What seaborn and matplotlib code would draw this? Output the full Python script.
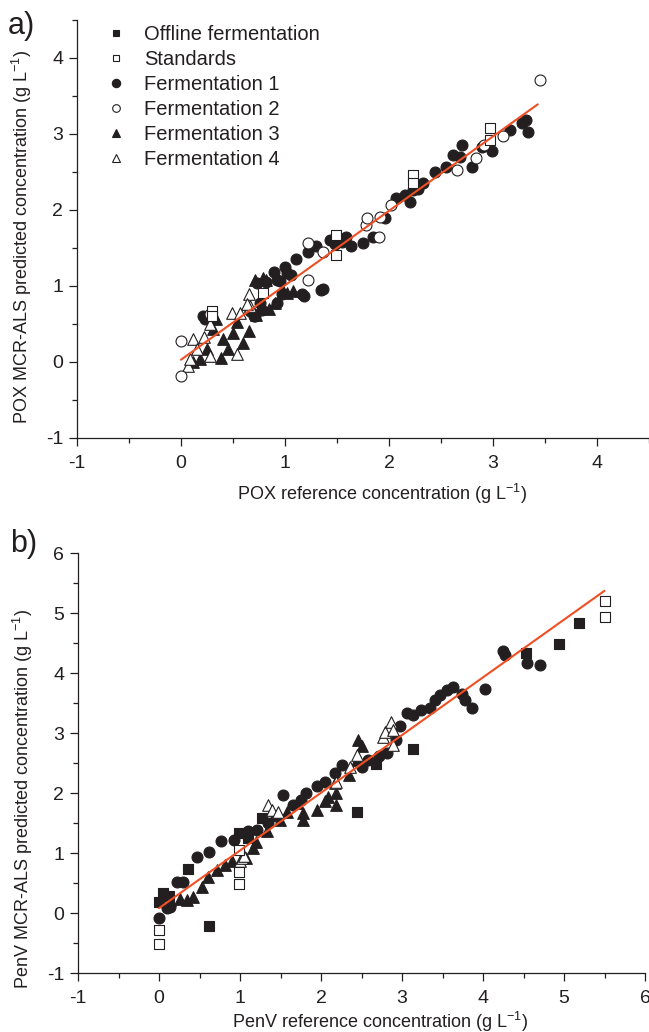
import numpy as np
import pandas as pd
import seaborn as sns
import matplotlib.pyplot as plt
from matplotlib.lines import Line2D
from matplotlib.ticker import MultipleLocator

# ---- panel a: POX ----
a_std_x = [0.30, 0.30, 0.79, 1.49, 1.49, 2.23, 2.23, 2.97, 2.97]
a_std_y = [0.67, 0.60, 0.91, 1.67, 1.41, 2.46, 2.35, 3.08, 2.92]

a_f1_x = [0.21, 0.23, 0.66, 0.70, 0.71, 0.73, 0.76, 0.78, 0.89, 0.92, 0.92, 0.95, 0.97, 1.02, 1.06, 1.11, 1.16, 1.18, 1.22, 1.30,
          1.35, 1.37, 1.43, 1.59, 1.63, 1.75, 1.85, 1.96, 2.07, 2.15, 2.20, 2.23, 2.28, 2.33, 2.44, 2.55, 2.62, 2.68, 2.70, 2.80,
          2.89, 2.99, 3.16, 3.28, 3.32, 3.34, 0.82, 1.00, 1.48, 1.55]
a_f1_y = [0.60, 0.57, 0.67, 0.60, 0.60, 1.04, 0.78, 0.69, 1.19, 1.08, 0.78, 1.06, 0.89, 1.17, 1.15, 1.35, 0.89, 0.87, 1.45, 1.52,
          0.95, 0.96, 1.61, 1.65, 1.52, 1.56, 1.65, 1.90, 2.16, 2.20, 2.11, 2.26, 2.28, 2.36, 2.50, 2.57, 2.73, 2.70, 2.85, 2.57,
          2.83, 2.78, 3.05, 3.15, 3.18, 3.02, 1.05, 1.25, 1.55, 1.58]

a_f2_x = [0.00, 0.00, 0.28, 1.22, 1.22, 1.37, 1.78, 1.79, 1.90, 1.91, 2.02, 2.65, 2.84, 2.91, 3.10, 3.45]
a_f2_y = [0.27, -0.19, 0.63, 1.08, 1.57, 1.45, 1.80, 1.89, 1.65, 1.91, 2.07, 2.52, 2.69, 2.86, 2.97, 3.71]

a_f3_x = [0.12, 0.18, 0.25, 0.31, 0.34, 0.40, 0.45, 0.54, 0.65, 0.71, 0.79, 0.82, 0.90, 0.98, 1.02, 1.08, 0.60, 0.50, 0.38, 0.72, 0.85]
a_f3_y = [0.00, 0.04, 0.17, 0.43, 0.56, 0.30, 0.17, 0.52, 0.41, 1.08, 1.11, 1.08, 0.78, 0.93, 0.91, 0.93, 0.25, 0.38, 0.05, 0.62, 0.70]

a_f4_x = [0.07, 0.09, 0.12, 0.15, 0.28, 0.28, 0.49, 0.54, 0.57, 0.65, 0.66, 0.22, 0.63]
a_f4_y = [-0.05, 0.04, 0.30, 0.17, 0.08, 0.50, 0.65, 0.10, 0.65, 0.89, 0.74, 0.33, 0.76]

a_fit_x = [0.0, 3.43]
a_fit_y = [0.03, 3.39]

# ---- panel b: PenV ----
b_off_x = [0.00, 0.05, 0.12, 0.36, 0.62, 0.99, 1.10, 1.27, 2.44, 2.68, 3.14, 4.53, 4.94, 5.18]
b_off_y = [0.19, 0.33, 0.28, 0.73, -0.22, 1.34, 1.25, 1.59, 1.68, 2.48, 2.73, 4.34, 4.48, 4.83]

b_std_x = [0.00, 0.00, 0.99, 0.99, 0.99, 5.50, 5.50]
b_std_y = [-0.28, -0.51, 0.49, 0.69, 1.05, 5.20, 4.93]

b_f1_x = [0.00, 0.10, 0.14, 0.22, 0.30, 0.47, 0.62, 0.77, 0.92, 1.10, 1.21, 1.35, 1.45, 1.53, 1.65, 1.75, 1.82, 1.95, 2.05, 2.17,
          2.26, 2.50, 2.58, 2.71, 2.81, 2.93, 2.98, 3.06, 3.14, 3.24, 3.35, 3.41, 3.47, 3.55, 3.63, 3.74, 3.78, 3.87, 4.02, 4.25,
          4.27, 4.54, 4.70]
b_f1_y = [-0.09, 0.08, 0.10, 0.52, 0.52, 0.94, 1.02, 1.20, 1.22, 1.36, 1.38, 1.50, 1.62, 1.97, 1.80, 1.88, 2.00, 2.11, 2.19, 2.33,
          2.47, 2.44, 2.55, 2.61, 2.66, 2.88, 3.11, 3.33, 3.30, 3.38, 3.41, 3.55, 3.63, 3.72, 3.77, 3.65, 3.55, 3.41, 3.74, 4.37,
          4.30, 4.17, 4.13]

b_f3_x = [0.14, 0.26, 0.34, 0.42, 0.53, 0.61, 0.71, 0.81, 0.90, 1.08, 1.16, 1.20, 1.33, 1.49, 1.58, 1.70, 1.78, 1.78, 1.95, 2.05,
          2.09, 2.19, 2.19, 2.46, 2.50, 2.35, 2.45]
b_f3_y = [0.22, 0.24, 0.22, 0.27, 0.44, 0.60, 0.72, 0.80, 0.86, 0.91, 1.08, 1.19, 1.36, 1.55, 1.69, 1.83, 1.55, 1.66, 1.72, 1.86,
          1.94, 2.00, 1.80, 2.88, 2.78, 2.30, 2.55]

b_f4_x = [1.00, 1.02, 1.05, 1.35, 1.39, 1.47, 2.17, 2.19, 2.36, 2.44, 2.77, 2.79, 2.87, 2.89, 2.89]
b_f4_y = [0.86, 0.91, 0.95, 1.80, 1.72, 1.69, 2.16, 2.19, 2.44, 2.63, 2.94, 3.02, 3.19, 3.05, 2.80]

b_fit_x = [0.0, 5.5]
b_fit_y = [0.08, 5.37]

legend_labels = ['Offline fermentation', 'Standards', 'Fermentation 1',
                 'Fermentation 2', 'Fermentation 3', 'Fermentation 4']

ink = '#231f20'
red = '#f04e23'

sns.set_style('ticks')
plt.rcParams['font.family'] = ['Liberation Sans', 'DejaVu Sans']
plt.rcParams['mathtext.default'] = 'regular'
plt.rcParams['axes.unicode_minus'] = False
plt.rcParams['axes.edgecolor'] = ink
plt.rcParams['xtick.color'] = ink
plt.rcParams['ytick.color'] = ink
plt.rcParams['text.color'] = ink
plt.rcParams['axes.labelcolor'] = ink

fig = plt.figure(figsize=(6.49, 10.32), dpi=100)
ax_a = fig.add_axes([77 / 649, 1 - 438 / 1032, 572 / 649, 418 / 1032])
ax_b = fig.add_axes([78 / 649, 1 - 973 / 1032, 567 / 649, 420 / 1032])


def draw_points(ax, x, y, marker, filled, size):
    if len(x) == 0:
        return
    face = ink if filled else 'white'
    sns.scatterplot(x=x, y=y, ax=ax, marker=marker, color=face, edgecolor=ink,
                    linewidth=0.8, s=size, zorder=3)


def style_axes(ax, xlim, ylim, xlabel, ylabel, ylab_pos, xlab_pos):
    ax.set_xlim(*xlim)
    ax.set_ylim(*ylim)
    ax.xaxis.set_major_locator(MultipleLocator(1))
    ax.yaxis.set_major_locator(MultipleLocator(1))
    ax.xaxis.set_minor_locator(MultipleLocator(0.5))
    ax.yaxis.set_minor_locator(MultipleLocator(0.5))
    ax.tick_params(which='major', length=6, width=0.9, labelsize=14, pad=4)
    ax.tick_params(which='minor', length=3.5, width=0.9)
    ax.tick_params(axis='x', which='major', pad=6)
    for sp in ax.spines.values():
        sp.set_linewidth(0.9)
    sns.despine(ax=ax)
    ax.set_xlabel(xlabel, fontsize=13)
    ax.set_ylabel(ylabel, fontsize=13)
    ax.xaxis.set_label_coords(0.533, xlab_pos)
    ax.yaxis.set_label_coords(-0.075, ylab_pos)


# panel a
draw_points(ax_a, a_f1_x, a_f1_y, 'o', True, 62)
draw_points(ax_a, a_f3_x, a_f3_y, '^', True, 70)
draw_points(ax_a, a_f4_x, a_f4_y, '^', False, 70)
draw_points(ax_a, a_f2_x, a_f2_y, 'o', False, 62)
draw_points(ax_a, a_std_x, a_std_y, 's', False, 50)
sns.lineplot(x=a_fit_x, y=a_fit_y, ax=ax_a, color=red, linewidth=1.5, zorder=4)
style_axes(ax_a, (-1, 4.5), (-1, 4.5), 'POX reference concentration (g L$^{-1}$)',
           'POX MCR-ALS predicted concentration (g L$^{-1}$)', 0.48, -0.105)

# panel b
draw_points(ax_b, b_f1_x, b_f1_y, 'o', True, 62)
draw_points(ax_b, b_f3_x, b_f3_y, '^', True, 70)
draw_points(ax_b, b_off_x, b_off_y, 's', True, 50)
draw_points(ax_b, b_f4_x, b_f4_y, '^', False, 70)
draw_points(ax_b, b_std_x, b_std_y, 's', False, 50)
sns.lineplot(x=b_fit_x, y=b_fit_y, ax=ax_b, color=red, linewidth=1.5, zorder=4)
style_axes(ax_b, (-1, 6), (-1, 6), 'PenV reference concentration (g L$^{-1}$)',
           'PenV MCR-ALS predicted concentration (g L$^{-1}$)', 0.415, -0.087)

# legend (panel a)
handles = [
    Line2D([], [], ls='', marker='s', ms=4, mfc=ink, mec=ink, mew=0.8),
    Line2D([], [], ls='', marker='s', ms=4.5, mfc='white', mec=ink, mew=0.8),
    Line2D([], [], ls='', marker='o', ms=6, mfc=ink, mec=ink, mew=0.8),
    Line2D([], [], ls='', marker='o', ms=5.5, mfc='white', mec=ink, mew=0.8),
    Line2D([], [], ls='', marker='^', ms=6, mfc=ink, mec=ink, mew=0.8),
    Line2D([], [], ls='', marker='^', ms=6, mfc='white', mec=ink, mew=0.8),
]
ax_a.legend(handles, legend_labels, loc='upper left', bbox_to_anchor=(0.037, 1.008),
            frameon=False, fontsize=14.5, handlelength=1.0, handletextpad=0.9,
            labelspacing=0.3, borderaxespad=0.0)

fig.text(8 / 649, 1 - 34 / 1032, 'a)', fontsize=22, va='baseline')
fig.text(10 / 649, 1 - 552 / 1032, 'b)', fontsize=22, va='baseline')

fig.savefig('out.png', dpi=100)
